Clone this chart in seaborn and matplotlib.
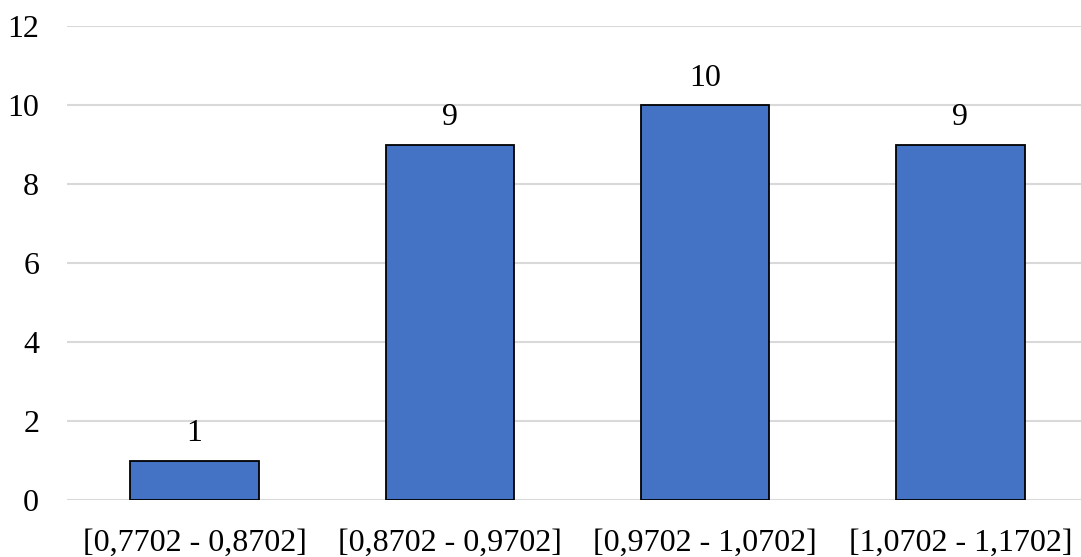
import matplotlib
matplotlib.use("Agg")
import matplotlib.pyplot as plt
import seaborn as sns
import pandas as pd

categories = ["[0,7702 - 0,8702]", "[0,8702 - 0,9702]", "[0,9702 - 1,0702]", "[1,0702 - 1,1702]"]
counts = [1, 9, 10, 9]
yticks = [0, 2, 4, 6, 8, 10, 12]

sns.set_theme(style="white")
plt.rcParams["font.family"] = ["Liberation Serif", "DejaVu Serif"]

df = pd.DataFrame({"interval": categories, "count": counts})

W, H = 1081, 557
fig = plt.figure(figsize=(W / 100, H / 100), dpi=100)
ax = fig.add_axes([67 / W, (H - 500) / H, (1088 - 67) / W, (500 - 26) / H])

sns.barplot(data=df, x="interval", y="count", color="#4472C4", width=0.503,
            edgecolor="black", linewidth=1.3, saturation=1, ax=ax, zorder=3)

ax.set_ylim(0, 12)
ax.set_yticks(yticks)
ax.set_yticklabels([str(t) for t in yticks])
ax.yaxis.grid(True, color="#D9D9D9", linewidth=1.5, zorder=0)
ax.xaxis.grid(False)
ax.set_axisbelow(True)
for s in ax.spines.values():
    s.set_visible(False)
ax.set_xlabel("")
ax.set_ylabel("")
ax.tick_params(axis="y", length=0, pad=20, labelsize=23, colors="black")
ax.tick_params(axis="x", length=0, pad=21, labelsize=23, colors="black")

for c in ax.containers:
    ax.bar_label(c, labels=[str(v) for v in counts], padding=9, fontsize=23, color="black")

fig.savefig("out.png", dpi=100, facecolor="white")
